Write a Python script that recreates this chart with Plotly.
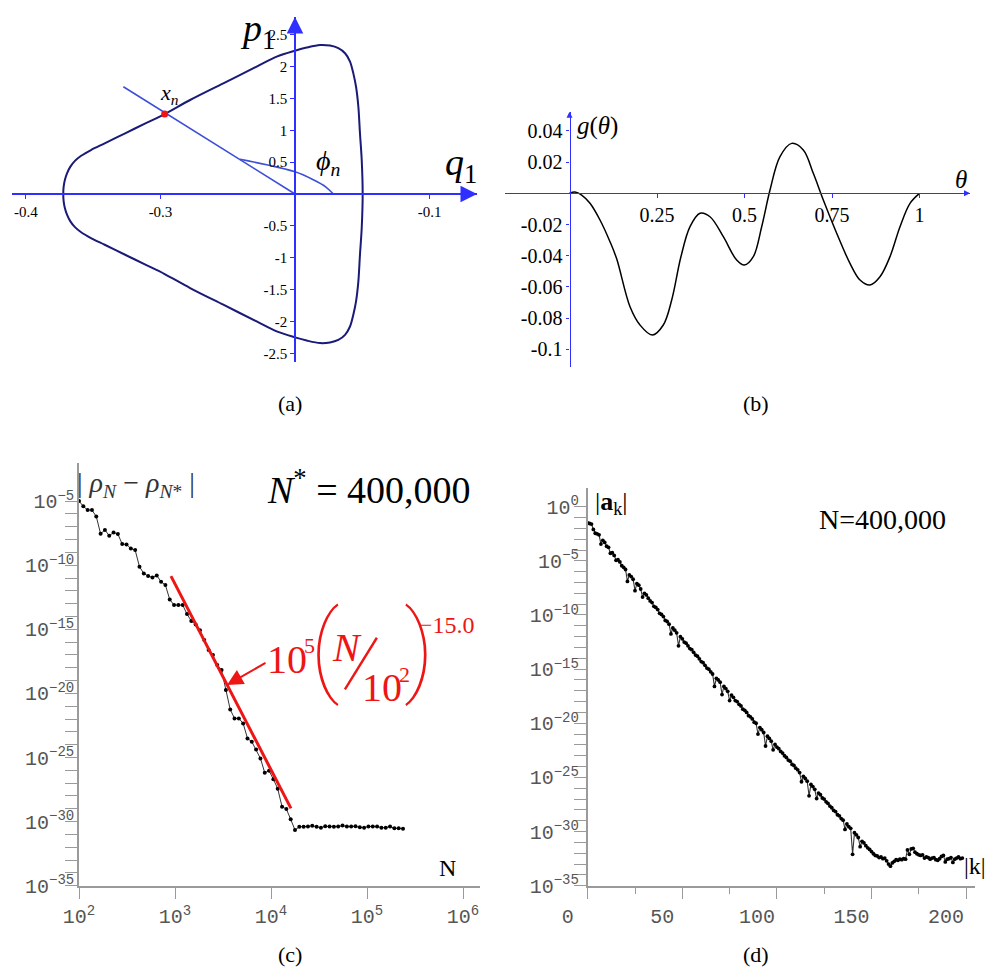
import numpy as np
import plotly.graph_objects as go

W, H = 989, 968
SERIF = "Liberation Serif"
MONO = "Liberation Mono"
BLUE = "#2f2fff"
LINEBLUE = "#3d4fd6"
NAVY = "#1a1a78"
GREY = "#9a9a9a"
TXTGREY = "#555555"
RED = "#ee1515"

# ---------------- data: panel (a) invariant curve (q1, p1) ----------------
# upper half, from the left tip to the right side
A_Q_UP = [-0.3723, -0.3720, -0.3711, -0.3695, -0.3670, -0.3636, -0.3590, -0.3517, -0.3415,
          -0.3263, -0.3116, -0.2969, -0.2780, -0.2533, -0.2285, -0.2136, -0.2000, -0.1913,
          -0.1814, -0.1740, -0.1678, -0.1628, -0.1591, -0.1566, -0.1546, -0.1529, -0.1517,
          -0.1504, -0.1497]
A_P_UP = [0.0, 0.115, 0.22, 0.325, 0.43, 0.52, 0.60, 0.691, 0.796,
          0.953, 1.105, 1.256, 1.476, 1.738, 2.0, 2.156, 2.25, 2.30,
          2.34, 2.33, 2.29, 2.21, 2.08, 1.89, 1.68, 1.37, 0.95,
          0.53, 0.0]
# lower half, from the left tip to the right side
A_Q_LO = [-0.3723, -0.3720, -0.3711, -0.3695, -0.3670, -0.3636, -0.3590, -0.3517, -0.3415,
          -0.3263, -0.3116, -0.2969, -0.2780, -0.2533, -0.2285, -0.2136, -0.2000, -0.1913,
          -0.1814, -0.1740, -0.1678, -0.1628, -0.1591, -0.1566, -0.1546, -0.1529, -0.1517,
          -0.1504, -0.1497]
A_P_LO = [0.0, -0.115, -0.22, -0.325, -0.43, -0.52, -0.60, -0.691, -0.796,
          -0.953, -1.105, -1.256, -1.476, -1.738, -2.0, -2.156, -2.25, -2.30,
          -2.34, -2.33, -2.29, -2.21, -2.08, -1.89, -1.68, -1.37, -0.95,
          -0.53, 0.0]
A_RAY_Q = [-0.3276, -0.2000]
A_RAY_P = [1.684, 0.0]
A_ARC_Q = [-0.2409, -0.2000, -0.1860, -0.1770, -0.1715]
A_ARC_P = [0.545, 0.35, 0.22, 0.11, 0.0]
A_XN_Q = [-0.2969]
A_XN_P = [1.256]
A_QTICKS = [-0.4, -0.3, -0.1]
A_PTICKS = [2.5, 2, 1.5, 1, 0.5, -0.5, -1, -1.5, -2, -2.5]
A_AXIS_Q = -0.2

# ---------------- data: panel (b) g(theta) ----------------
B_THETA = [0.0, 0.0157, 0.0348, 0.0586, 0.0871, 0.1157, 0.1348, 0.1729, 0.2014, 0.2366,
           0.268, 0.292, 0.318, 0.3443, 0.3729, 0.4014, 0.4395, 0.4776, 0.4995,
           0.5252, 0.5491, 0.5729, 0.6014, 0.6348, 0.668, 0.6966, 0.7252, 0.7634, 0.8014,
           0.83, 0.8586, 0.8871, 0.9157, 0.9443, 0.9729, 1.0]
B_G = [0.0, 0.0008, -0.0011, -0.0064, -0.0171, -0.031, -0.042, -0.0727, -0.0844, -0.0908,
       -0.0844, -0.0684, -0.041, -0.0214, -0.0128, -0.015, -0.0278, -0.0428, -0.046,
       -0.0406, -0.0214, 0.0021, 0.0235, 0.032, 0.0278, 0.0128, -0.0043, -0.0256, -0.0449,
       -0.0556, -0.0588, -0.0535, -0.0406, -0.0214, -0.0064, 0.0]
B_XTICKS = [0.25, 0.5, 0.75, 1]
B_YTICKS = [0.04, 0.02, -0.02, -0.04, -0.06, -0.08, -0.1]

# ---------------- data: panel (c) |rho_N - rho_N*| (log10 values) ----------------
C_LOGN = [2.000, 2.045, 2.090, 2.135, 2.180, 2.225, 2.270, 2.315, 2.360, 2.405,
          2.450, 2.495, 2.540, 2.585, 2.630, 2.675, 2.720, 2.765, 2.810, 2.855,
          2.900, 2.945, 2.990, 3.035, 3.080, 3.125, 3.170, 3.215, 3.260, 3.305,
          3.350, 3.395, 3.440, 3.485, 3.530, 3.575, 3.620, 3.665, 3.710, 3.755,
          3.800, 3.845, 3.890, 3.935, 3.980, 4.025, 4.070, 4.115, 4.160, 4.205,
          4.250, 4.295, 4.340, 4.385, 4.430, 4.475, 4.520, 4.565, 4.610, 4.655,
          4.700, 4.745, 4.790, 4.835, 4.880, 4.925, 4.970, 5.015, 5.060, 5.105,
          5.150, 5.195, 5.240, 5.285, 5.330, 5.375]
C_LOGRHO = [-5.00, -5.40, -5.70, -5.70, -6.20, -7.55, -7.25, -7.70, -7.45, -7.57,
            -8.35, -8.38, -8.70, -8.82, -10.12, -10.64, -10.85, -10.95, -10.80, -11.29,
            -11.55, -12.67, -13.11, -13.11, -13.11, -13.81, -14.35, -14.62, -15.08, -15.84,
            -16.62, -17.01, -17.79, -18.18, -19.74, -21.25, -21.95, -21.95, -22.34, -23.51,
            -23.77, -24.37, -25.07, -26.19, -26.03, -26.70, -27.43, -28.84, -29.02, -29.82,
            -30.66, -30.40, -30.40, -30.38, -30.33, -30.40, -30.48, -30.37, -30.38, -30.40,
            -30.39, -30.31, -30.39, -30.38, -30.36, -30.45, -30.48, -30.38, -30.38, -30.39,
            -30.47, -30.47, -30.39, -30.52, -30.52, -30.55]
C_FIT_LOGN = [2.958, 4.208]
C_FIT_LOGRHO = [-10.85, -28.97]
C_XDEC = [2, 3, 4, 5, 6]
C_YDEC = list(range(-35, -4))

# ---------------- data: panel (d) |a_k| (log10 values) ----------------
D_K = list(range(0, 199))
D_LOGA = [
    -1.50, -1.55, -1.60, -2.10, -2.45, -2.50, -2.60, -3.45, -3.10, -3.30,
    -3.65, -3.75, -4.30, -4.25, -4.50, -4.95, -4.90, -5.10, -5.45, -5.60,
    -5.80, -6.90, -6.30, -6.45, -6.70, -7.75, -7.10, -7.25, -7.60, -8.35,
    -8.00, -8.15, -8.45, -8.70, -8.85, -9.20, -9.30, -9.50, -9.85, -9.95,
    -10.15, -10.50, -10.60, -10.85, -11.75, -11.20, -11.40, -11.65, -12.85, -12.00,
    -12.20, -12.50, -12.60, -12.85, -13.10, -13.20, -13.45, -13.70, -13.80, -14.05,
    -14.30, -14.40, -14.65, -14.90, -15.00, -15.25, -15.45, -16.60, -15.85, -16.00,
    -16.20, -17.35, -16.60, -16.80, -17.05, -17.90, -17.40, -17.60, -17.90, -18.00,
    -18.25, -18.40, -18.70, -18.80, -19.00, -19.30, -19.40, -19.60, -19.90, -20.00,
    -21.00, -20.40, -20.60, -20.85, -22.10, -21.20, -21.40, -21.65, -22.45, -21.95,
    -22.20, -22.35, -22.60, -22.75, -23.00, -23.15, -23.40, -23.50, -23.80, -23.90,
    -24.15, -24.30, -24.55, -25.40, -24.90, -25.10, -25.35, -26.70, -25.65, -25.85,
    -26.10, -26.95, -26.45, -26.60, -26.90, -27.00, -27.25, -27.40, -27.65, -27.80,
    -28.05, -28.15, -28.45, -28.55, -28.80, -28.95, -29.80, -29.30, -29.55, -29.70,
    -32.10, -30.10, -30.30, -30.55, -31.40, -30.90, -31.05, -31.30, -31.50, -31.65,
    -31.85, -32.05, -32.20, -32.25, -32.40, -32.35, -32.50, -32.45, -32.70, -33.00,
    -33.20, -32.90, -32.75, -32.60, -32.65, -32.55, -32.60, -32.50, -32.55, -31.70,
    -32.10, -31.60, -31.55, -31.90, -32.05, -32.15, -32.20, -32.15, -32.45, -32.35,
    -32.40, -32.55, -32.45, -32.40, -32.60, -32.65, -32.50, -32.30, -32.20, -32.80,
    -32.55, -32.50, -32.40, -32.85, -32.55, -32.45, -32.35, -32.50, -32.45]
D_XTICKS = [0, 50, 100, 150, 200]
D_XMINOR = [25, 75, 125, 175]
D_YDEC = list(range(-35, 1))


def fx(x):
    return x / W


def fy(y):
    return 1 - y / H


# ---------------- layout geometry ----------------
A_XDOM = [fx(12), fx(477)]
A_YDOM = [fy(362), fy(17)]
A_XR = [-0.4104, -0.0647]
A_YR = [-2.637, 2.779]
B_XDOM = [fx(505), fx(970)]
B_YDOM = [fy(367.3), fy(111.7)]
B_XR = [-0.1843, 1.1443]
B_YR = [-0.1115, 0.0523]
C_XDOM = [fx(79), fx(480)]
C_YDOM = [fy(885.7), fy(463.3)]
C_XR = [2, 6.177]
C_YR = [-35, -2.05]
D_XDOM = [fx(587.7), fx(975)]
D_YDOM = [fy(885.7), fy(488.3)]
D_XR = [0, 204.7]
D_YR = [-35, 1.7]


def frac(v, r, dom):
    return dom[0] + (v - r[0]) / (r[1] - r[0]) * (dom[1] - dom[0])


fig = go.Figure()

# (a): closed loop drawn starting on the (straight) right side
loop_q = A_Q_UP[::-1] + A_Q_LO[1:]
loop_p = A_P_UP[::-1] + A_P_LO[1:]
fig.add_trace(go.Scatter(x=loop_q, y=loop_p, mode="lines",
                         line=dict(color=NAVY, width=2, shape="spline", smoothing=0.9),
                         xaxis="x", yaxis="y", hoverinfo="skip"))
fig.add_trace(go.Scatter(x=A_RAY_Q, y=A_RAY_P, mode="lines",
                         line=dict(color=LINEBLUE, width=1.6), xaxis="x", yaxis="y"))
fig.add_trace(go.Scatter(x=A_ARC_Q, y=A_ARC_P, mode="lines",
                         line=dict(color=LINEBLUE, width=1.6, shape="spline"), xaxis="x", yaxis="y"))
fig.add_trace(go.Scatter(x=A_XN_Q, y=A_XN_P, mode="markers",
                         marker=dict(color=RED, size=7), xaxis="x", yaxis="y"))

# (b)
fig.add_trace(go.Scatter(x=B_THETA, y=B_G, mode="lines",
                         line=dict(color="black", width=1.5, shape="spline", smoothing=1.0),
                         xaxis="x2", yaxis="y2"))

# (c)
fig.add_trace(go.Scatter(x=np.power(10.0, C_LOGN), y=np.power(10.0, C_LOGRHO), mode="lines+markers",
                         line=dict(color="#333333", width=1),
                         marker=dict(color="black", size=4), xaxis="x3", yaxis="y3"))
fig.add_trace(go.Scatter(x=np.power(10.0, C_FIT_LOGN), y=np.power(10.0, C_FIT_LOGRHO), mode="lines",
                         line=dict(color=RED, width=3), xaxis="x3", yaxis="y3"))

# (d)
fig.add_trace(go.Scatter(x=D_K, y=np.power(10.0, D_LOGA), mode="lines+markers",
                         line=dict(color="#333333", width=1.1),
                         marker=dict(color="black", size=3.8), xaxis="x4", yaxis="y4"))


def sup_label(n):
    s = str(n).replace("-", "\u2212")
    return "10<sup>" + s + "</sup>"


common_blue = dict(showgrid=False, zeroline=False, showline=True, linecolor=BLUE,
                   tickcolor=BLUE, ticks="outside", automargin=False)
common_grey = dict(showgrid=False, zeroline=False, showline=True, linecolor=GREY, linewidth=1.5,
                   tickcolor=GREY, ticks="outside", tickwidth=1.2, automargin=False,
                   tickfont=dict(family=MONO, size=20, color=TXTGREY))

layout = dict(
    width=W, height=H, margin=dict(l=0, r=0, t=0, b=0, pad=0, autoexpand=False), autosize=False,
    paper_bgcolor="white", plot_bgcolor="white", showlegend=False,
    xaxis=dict(domain=A_XDOM, range=A_XR, anchor="free",
               position=frac(0, A_YR, A_YDOM), linewidth=1.5, ticklen=4,
               tickvals=A_QTICKS, ticktext=[("%g" % v) for v in A_QTICKS],
               tickfont=dict(family=SERIF, size=15, color="black"), **common_blue),
    yaxis=dict(domain=A_YDOM, range=A_YR, anchor="free",
               position=frac(A_AXIS_Q, A_XR, A_XDOM), linewidth=1.5, ticklen=4,
               tickvals=A_PTICKS, ticktext=[("%g" % v) for v in A_PTICKS],
               tickfont=dict(family=SERIF, size=15, color="black"), **common_blue),
    xaxis2=dict(domain=B_XDOM, range=B_XR, anchor="free",
                position=frac(0, B_YR, B_YDOM), linewidth=1.2, ticklen=4,
                tickvals=B_XTICKS, ticktext=[("%g" % v) for v in B_XTICKS],
                tickfont=dict(family=SERIF, size=20, color="black"), **common_blue),
    yaxis2=dict(domain=B_YDOM, range=B_YR, anchor="free",
                position=frac(0, B_XR, B_XDOM), linewidth=1.2, ticklen=3,
                tickvals=B_YTICKS, ticktext=[("%g" % v) for v in B_YTICKS],
                tickfont=dict(family=SERIF, size=20, color="black"), **common_blue),
    xaxis3=dict(domain=C_XDOM, range=C_XR, type="log", anchor="y3", ticklen=12,
                tickvals=[10.0 ** d for d in C_XDEC], ticktext=[sup_label(d) for d in C_XDEC],
                **common_grey),
    yaxis3=dict(domain=C_YDOM, range=C_YR, type="log", anchor="x3", ticklen=12,
                tickvals=[10.0 ** d for d in C_YDEC],
                ticktext=[sup_label(d) if d % 5 == 0 else "" for d in C_YDEC],
                ticklabelstandoff=-13, **common_grey),
    xaxis4=dict(domain=D_XDOM, range=D_XR, anchor="y4", ticklen=12,
                tickvals=D_XTICKS, ticktext=[str(v) for v in D_XTICKS], ticklabelshift=-20,
                minor=dict(tickvals=D_XMINOR, ticklen=7, tickcolor=GREY, ticks="outside"),
                **common_grey),
    yaxis4=dict(domain=D_YDOM, range=D_YR, type="log", anchor="x4", ticklen=12,
                tickvals=[10.0 ** d for d in D_YDEC],
                ticktext=[sup_label(d) if d % 5 == 0 else "" for d in D_YDEC],
                ticklabelstandoff=-9, **common_grey),
)
fig.update_layout(**layout)

anns = []


def txt(text, x, y, size, color="black", family=SERIF, weight=None, **kw):
    font = dict(family=family, size=size, color=color)
    if weight is not None:
        font["weight"] = weight
    d = dict(text=text, x=fx(x), y=fy(y), xref="paper", yref="paper", showarrow=False,
             xanchor="center", yanchor="middle", font=font)
    d.update(kw)
    anns.append(d)


# axis arrows
anns.append(dict(x=A_XR[1], y=0, xref="x", yref="y", ax=-16, ay=0, text="", showarrow=True,
                 arrowhead=2, arrowsize=2.2, arrowwidth=1.5, arrowcolor=BLUE))
anns.append(dict(x=A_AXIS_Q, y=A_YR[1], xref="x", yref="y", ax=0, ay=16, text="", showarrow=True,
                 arrowhead=2, arrowsize=2.2, arrowwidth=1.5, arrowcolor=BLUE))
anns.append(dict(x=B_XR[1], y=0, xref="x2", yref="y2", ax=-6, ay=0, text="", showarrow=True,
                 arrowhead=2, arrowsize=1, arrowwidth=1.2, arrowcolor=BLUE))
anns.append(dict(x=0, y=B_YR[1], xref="x2", yref="y2", ax=0, ay=6, text="", showarrow=True,
                 arrowhead=2, arrowsize=1, arrowwidth=1.2, arrowcolor=BLUE))

# (a) labels
txt("<i>p</i><sub>1</sub>", 257, 31, 38)
txt("<i>q</i><sub>1</sub>", 461, 165, 38)
txt("<i>x</i><sub><i>n</i></sub>", 169, 94, 22)
txt("<i>\u03d5</i><sub><i>n</i></sub>", 328, 162, 28)
txt("(a)", 290, 403, 22)
# (b) labels
txt("<i>g</i>(<i>\u03b8</i>)", 597, 126, 25)
txt("<i>\u03b8</i>", 961, 180, 25)
txt("(b)", 756, 403, 22)
# (c) labels
txt("| <i>\u03c1</i><sub><i>N</i></sub> \u2212 <i>\u03c1</i><sub><i>N</i>*</sub> |", 136, 484, 28, color="#333333")
txt("<i>N</i><sup>*</sup> = 400,000", 369, 487, 38)
txt("N", 447, 868, 24)
txt("(c)", 290, 954, 22)
# red formula
txt("10", 287, 659, 40, color=RED)
txt("5", 309, 645, 22, color=RED)
txt("(", 325, 648, 100, color=RED, family="Roboto", weight=100)
txt("<i>N</i>", 347, 647, 40, color=RED)
txt("\u2044", 361, 664, 92, color=RED, family="Roboto", weight=100)
txt("10", 382, 687, 40, color=RED)
txt("2", 404, 674, 22, color=RED)
txt(")", 419, 648, 100, color=RED, family="Roboto", weight=100)
txt("\u221215.0", 447, 625, 24, color=RED)
anns.append(dict(x=fx(227), y=fy(685), xref="paper", yref="paper", ax=40, ay=-23,
                 text="", showarrow=True, arrowhead=2, arrowsize=1.6, arrowwidth=2,
                 arrowcolor=RED))
# (d) labels
txt("|<b>a</b><sub>k</sub>|", 611, 503, 26)
txt("N=400,000", 882, 519, 28)
txt("|k|", 975, 866, 24)
txt("(d)", 756, 954, 22)

fig.update_layout(annotations=anns)
fig.write_html("out.html")
